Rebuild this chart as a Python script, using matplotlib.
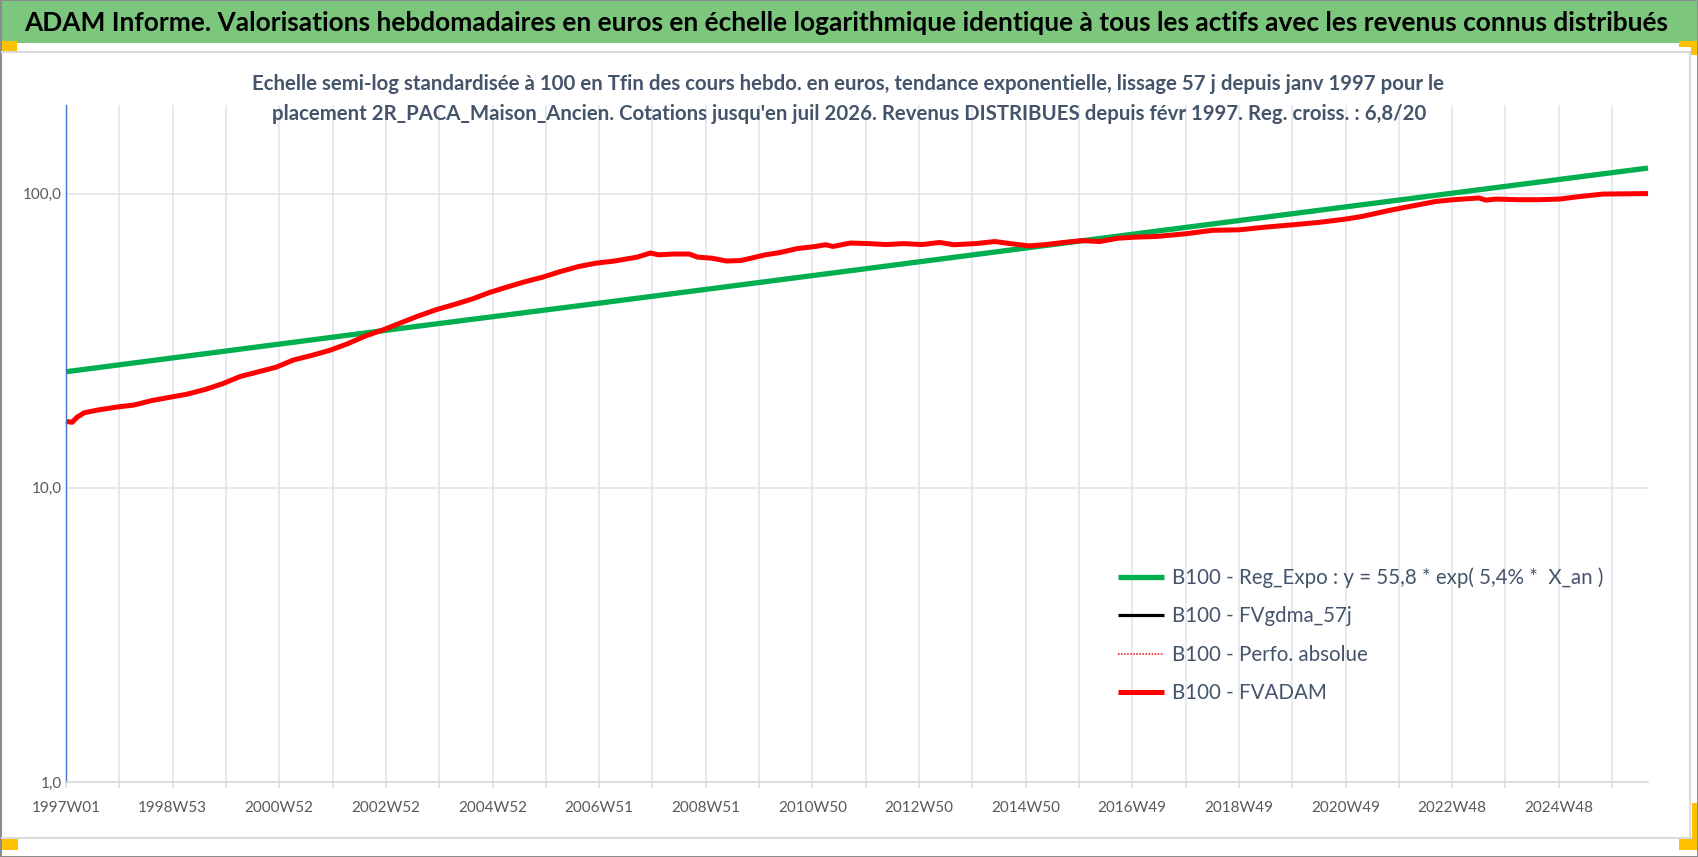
import matplotlib
matplotlib.use('Agg')
import matplotlib.pyplot as plt
from matplotlib import font_manager
from matplotlib.patches import Rectangle
from matplotlib.ticker import FixedLocator, FixedFormatter, NullLocator

W, H = 1698, 857

names = set(f.name for f in font_manager.fontManager.ttflist)
font = 'Lato' if 'Lato' in names else 'DejaVu Sans'
plt.rcParams['font.family'] = [font, 'DejaVu Sans']

title = ("ADAM Informe. Valorisations hebdomadaires en euros en échelle logarithmique "
         "identique à tous les actifs avec les revenus connus distribués")
subtitle1 = ("Echelle semi-log standardisée à 100 en Tfin des cours hebdo. en euros, "
             "tendance exponentielle, lissage 57 j depuis janv 1997 pour le")
subtitle2 = ("placement 2R_PACA_Maison_Ancien. Cotations jusqu'en juil 2026. "
             "Revenus DISTRIBUES depuis févr 1997. Reg. croiss. : 6,8/20")

# x axis = week number counted from 1997W01
n_weeks = 1544
tick_weeks = [0, 104, 208, 312, 416, 520, 624, 728, 832, 936, 1040, 1144, 1248, 1352, 1456]
tick_labels = ['1997W01', '1998W53', '2000W52', '2002W52', '2004W52', '2006W51', '2008W51',
               '2010W50', '2012W50', '2014W50', '2016W49', '2018W49', '2020W49', '2022W48',
               '2024W48']
y_ticks = [1, 10, 100]
y_labels = ['1,0', '10,0', '100,0']

# B100 - Reg_Expo
green_weeks = [0, 312, 522, 1049, 1543]
green_vals = [24.8, 34.3, 42.5, 73.4, 122.1]

# B100 - FVADAM
red_weeks = [0, 6, 11, 18, 32, 49, 66, 84, 101, 118, 136, 153, 170, 188, 205, 222, 240, 257,
             274, 292, 309, 326, 344, 361, 378, 396, 413, 430, 448, 465, 482, 500, 517, 535,
             557, 570, 578, 592, 608, 616, 630, 644, 658, 668, 682, 696, 713, 731, 741, 748,
             765, 783, 800, 817, 835, 852, 866, 887, 906, 921, 939, 956, 973, 991, 1008, 1026,
             1043, 1064, 1092, 1118, 1144, 1170, 1196, 1222, 1248, 1264, 1291, 1319, 1336,
             1353, 1378, 1385, 1395, 1416, 1437, 1457, 1472, 1499, 1520, 1543]
red_vals = [16.8, 16.7, 17.4, 18.0, 18.4, 18.8, 19.1, 19.8, 20.3, 20.8, 21.6, 22.6, 23.9, 24.8,
            25.7, 27.2, 28.2, 29.3, 30.8, 32.8, 34.4, 36.3, 38.4, 40.3, 41.9, 43.8, 46.1, 48.1,
            50.2, 52.0, 54.3, 56.5, 58.0, 59.0, 60.8, 62.8, 61.9, 62.3, 62.3, 60.8, 60.3, 59.0,
            59.2, 60.3, 61.9, 63.0, 65.0, 66.1, 67.0, 66.1, 67.9, 67.6, 67.1, 67.6, 67.1, 68.2,
            67.0, 67.6, 68.7, 67.6, 66.4, 67.1, 68.2, 69.2, 68.7, 70.5, 71.1, 71.5, 73.0, 75.0,
            75.3, 76.9, 78.3, 79.8, 81.9, 83.6, 87.7, 91.6, 94.0, 95.3, 96.6, 95.0, 95.8, 95.3,
            95.3, 95.8, 97.3, 99.6, 99.8, 100.0]

legend_labels = ['B100 - Reg_Expo : y = 55,8 * exp( 5,4% *  X_an )',
                 'B100 - FVgdma_57j',
                 'B100 - Perfo. absolue',
                 'B100 - FVADAM']

fig = plt.figure(figsize=(W / 100, H / 100), dpi=100)
renderer = fig.canvas.get_renderer()


def fx(x):
    return x / W


def fy(y):
    return 1 - y / H


def box(x0, y0, x1, y1, color):
    fig.add_artist(Rectangle((fx(x0), fy(y1)), fx(x1) - fx(x0), fy(y0) - fy(y1),
                             transform=fig.transFigure, facecolor=color,
                             edgecolor='none', zorder=0))


def fit(txt, width_px):
    for _ in range(3):
        w = txt.get_window_extent(renderer).width
        txt.set_fontsize(txt.get_fontsize() * width_px / w)
    return txt.get_fontsize()


# frame, title bar and yellow corners
box(0, 0, W, H, '#8C8C8C')
box(1.5, 1.5, W - 1.5, H - 1.5, 'white')
box(1.5, 1.5, W - 1.5, 43, '#7DC67D')
ln = dict(transform=fig.transFigure, color='#DADADA', lw=1.5, zorder=1)
fig.add_artist(plt.Line2D([fx(2), fx(1690)], [fy(51.5), fy(51.5)], **ln))
fig.add_artist(plt.Line2D([fx(1690), fx(1690)], [fy(51.5), fy(838)], **ln))
fig.add_artist(plt.Line2D([fx(2), fx(1690)], [fy(838), fy(838)], **ln))
box(1.5, 41, 17, 52, '#FFC000')
box(1679, 41, 1697, 47, '#FFC000')
box(1691, 41, 1697, 55, '#FFC000')
box(1692, 803, 1697, 850, '#FFC000')
box(1679, 838, 1697, 850, '#FFC000')
box(1.5, 839, 18, 850, '#FFC000')

t = fig.text(fx(846), fy(23), title, ha='center', va='center', fontsize=18,
             fontweight='bold', color='black')
fit(t, 1644)

s1 = fig.text(fx(848.5), fy(84), subtitle1, ha='center', va='center', fontsize=14,
              fontweight='bold', color='#44546A')
fs_sub = fit(s1, 1195)
fig.text(fx(849), fy(114.5), subtitle2, ha='center', va='center', fontsize=fs_sub,
         fontweight='bold', color='#44546A')

# tick font size from the width of one x label
tmp = fig.text(0, 0, '1997W01', fontsize=12)
fs_tick = fit(tmp, 69)
tmp.remove()

ax = fig.add_axes([fx(66), fy(782), fx(1648) - fx(66), fy(105) - fy(782)])
ax.set_yscale('log')
ax.set_ylim(1, 200)
ax.set_xlim(0, n_weeks - 1)

ax.xaxis.set_major_locator(FixedLocator(tick_weeks))
ax.xaxis.set_major_formatter(FixedFormatter(tick_labels))
ax.xaxis.set_minor_locator(FixedLocator([w + 52 for w in tick_weeks]))
ax.yaxis.set_major_locator(FixedLocator(y_ticks))
ax.yaxis.set_major_formatter(FixedFormatter(y_labels))
ax.yaxis.set_minor_locator(NullLocator())

ax.grid(True, axis='x', which='both', color='#E2E5EA', lw=1.2)
ax.grid(True, axis='y', which='major', color='#E2E5EA', lw=1.2)
ax.set_axisbelow(True)
ax.tick_params(axis='x', which='both', length=4.5, width=1.2, color='#DADDE2',
               labelsize=fs_tick, labelcolor='#595959', pad=9)
ax.tick_params(axis='y', length=0, labelsize=fs_tick, labelcolor='#595959', pad=3)
for side in ['top', 'right']:
    ax.spines[side].set_visible(False)
ax.spines['left'].set_color('#4472C4')
ax.spines['left'].set_linewidth(1)
ax.spines['bottom'].set_color('#D9D9D9')
ax.spines['bottom'].set_linewidth(1.2)

h1, = ax.plot(green_weeks, green_vals, color='#00B050', lw=3.8, clip_on=False,
              solid_capstyle='butt', label=legend_labels[0])
h2, = ax.plot(red_weeks, red_vals, color='black', lw=2.3, clip_on=False,
              solid_capstyle='butt', label=legend_labels[1])
h3, = ax.plot(red_weeks, red_vals, color='red', lw=1.1, ls=(0, (1, 1)), clip_on=False,
              dash_capstyle='butt', label=legend_labels[2])
h4, = ax.plot(red_weeks, red_vals, color='red', lw=3.6, clip_on=False,
              solid_capstyle='butt', label=legend_labels[3])

# legend, sized to the picture
tmp = fig.text(0, 0, legend_labels[0], fontsize=12)
fs_leg = fit(tmp, 431)
tmp.remove()
fs_px = fs_leg * 100 / 72
spacing = 0.5
top = 560
for _ in range(3):
    leg = ax.legend(handles=[h1, h2, h3, h4], loc='upper left',
                    bbox_to_anchor=(fx(1118), fy(top)), bbox_transform=fig.transFigure,
                    frameon=False, borderpad=0, borderaxespad=0, fontsize=fs_leg,
                    handlelength=46 / fs_px, handletextpad=8 / fs_px, labelspacing=spacing,
                    labelcolor='#44546A')
    fig.canvas.draw()
    ys = [H - tx.get_window_extent(renderer).y0 - tx.get_window_extent(renderer).height / 2
          for tx in leg.get_texts()]
    pitch = (ys[-1] - ys[0]) / 3
    spacing += (38.3 - pitch) / fs_px
    top += 578 - ys[0]

fig.savefig('out.png', dpi=100)
